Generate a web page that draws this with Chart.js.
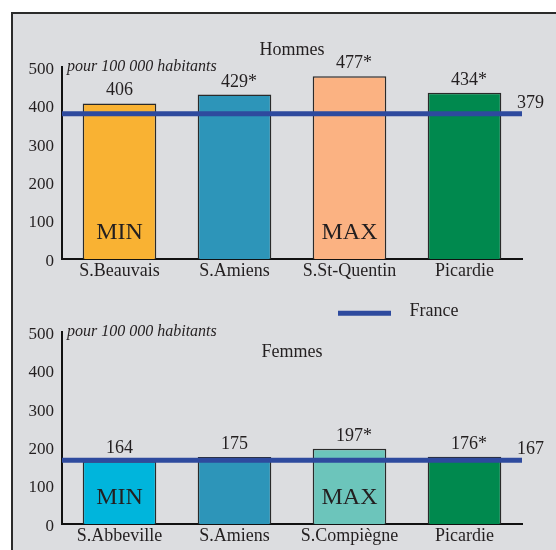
<!DOCTYPE html>
<html>
<head>
<meta charset="utf-8">
<script src="https://cdn.jsdelivr.net/npm/chart.js@4.4.0/dist/chart.umd.min.js"></script>
<style>
body { margin: 0; background: #fff; width: 556px; height: 550px; overflow: hidden; position: relative; }
#frame { position: absolute; left: 11px; top: 12px; width: 600px; height: 600px; border: 2px solid #2b2b2b; background: #dcdde0; }
canvas { position: absolute; left: 0; }
#hommes { top: 0; }
#femmes { top: 290px; }
</style>
</head>
<body>
<div id="frame"></div>
<canvas id="hommes" width="556" height="290"></canvas>
<canvas id="femmes" width="556" height="260"></canvas>
<script>
// taux pour 100 000 habitants
var hommesLabels = ['S.Beauvais', 'S.Amiens', 'S.St-Quentin', 'Picardie'];
var hommesValues = [406, 429, 477, 434];
var hommesStars = ['', '*', '*', '*'];
var hommesTags = ['MIN', '', 'MAX', ''];
var hommesFrance = 379;

var femmesLabels = ['S.Abbeville', 'S.Amiens', 'S.Compiègne', 'Picardie'];
var femmesValues = [164, 175, 197, 176];
var femmesStars = ['', '', '*', '*'];
var femmesTags = ['MIN', '', 'MAX', ''];
var femmesFrance = 167;

var hommesColors = ['#f9b233', '#2d95b9', '#fbb282', '#00894e'];
var femmesColors = ['#00b5dc', '#2d95b9', '#6cc5bb', '#00894e'];

var serif = '"Liberation Serif", "Times New Roman", serif';
var ink = '#231f20';
var franceBlue = '#2e4a9e';

var notes = {
    id: 'notes',
    afterDatasetsDraw: function(chart, args, opts) {
        var ctx = chart.ctx;
        var y = chart.scales.y;
        var area = chart.chartArea;
        var bars = chart.getDatasetMeta(1).data;
        ctx.save();
        ctx.fillStyle = ink;

        // valeurs au-dessus des barres
        ctx.font = '18px ' + serif;
        ctx.textAlign = 'left';
        ctx.textBaseline = 'alphabetic';
        bars.forEach(function(bar, i) {
            var num = String(opts.values[i]);
            var w = ctx.measureText(num).width;
            ctx.fillText(num + opts.stars[i], bar.x - w / 2, bar.y - 8);
        });

        // MIN / MAX
        ctx.font = '24px ' + serif;
        ctx.textAlign = 'center';
        bars.forEach(function(bar, i) {
            if (opts.tags[i]) ctx.fillText(opts.tags[i], bar.x, y.getPixelForValue(75) + 8);
        });

        // valeur France
        ctx.font = '18px ' + serif;
        ctx.textAlign = 'left';
        ctx.fillText(String(opts.france), area.right - 5, y.getPixelForValue(opts.france) - 6);

        // titre
        ctx.font = '18px ' + serif;
        ctx.textAlign = 'center';
        ctx.textBaseline = 'middle';
        ctx.fillText(opts.title, (area.left + area.right) / 2, opts.titleY);

        // unite
        ctx.font = 'italic 16px ' + serif;
        ctx.textAlign = 'left';
        ctx.textBaseline = 'alphabetic';
        ctx.fillText('pour 100 000 habitants', area.left + 5, area.top + 4);

        // legende
        if (opts.legend) {
            ctx.strokeStyle = franceBlue;
            ctx.lineWidth = 5;
            ctx.beginPath();
            ctx.moveTo(338, 23.3);
            ctx.lineTo(391, 23.3);
            ctx.stroke();
            ctx.font = '18px ' + serif;
            ctx.textBaseline = 'middle';
            ctx.fillText('France', 409.6, 21.5);
        }
        ctx.restore();
    }
};

function drawPanel(canvasId, labels, values, colors, france, stars, tags, title, titleY, legend, padTop, axisH) {
    var canvas = document.getElementById(canvasId);
    return new Chart(canvas.getContext('2d'), {
        type: 'bar',
        data: {
            labels: labels,
            datasets: [{
                type: 'line',
                xAxisID: 'xl',
                data: [{ x: 0, y: france }, { x: 1, y: france }],
                borderColor: franceBlue,
                borderWidth: 5,
                pointRadius: 0,
                clip: false,
                order: 0
            }, {
                xAxisID: 'x',
                data: values,
                backgroundColor: colors,
                borderColor: '#2a2a2a',
                borderWidth: 1.5,
                grouped: false,
                barPercentage: 0.64,
                categoryPercentage: 1,
                order: 1
            }]
        },
        options: {
            responsive: false,
            animation: false,
            events: [],
            layout: { padding: { top: padTop, right: 34, left: 0, bottom: 0 } },
            plugins: {
                legend: { display: false },
                tooltip: { enabled: false },
                notes: {
                    values: values, stars: stars, tags: tags, france: france,
                    title: title, titleY: titleY, legend: legend
                }
            },
            scales: {
                x: {
                    grid: { display: false, drawTicks: false },
                    border: { display: true, color: '#111', width: 2 },
                    ticks: { color: ink, font: { family: serif, size: 18 }, padding: 1, maxRotation: 0, autoSkip: false },
                    afterFit: function(s) { s.height = axisH; }
                },
                xl: { type: 'linear', display: false, offset: false, min: 0, max: 1 },
                y: {
                    min: 0,
                    max: 500,
                    ticks: { stepSize: 100, color: ink, font: { family: serif, size: 17 }, padding: 8, labelOffset: 2 },
                    grid: { display: false, drawTicks: false },
                    border: { display: true, color: '#111', width: 2 },
                    afterFit: function(s) { s.width = 62; }
                }
            }
        },
        plugins: [notes]
    });
}

var graphiqueHommes = drawPanel('hommes', hommesLabels, hommesValues, hommesColors, hommesFrance,
    hommesStars, hommesTags, 'Hommes', 50, false, 67.3, 30.7);
var graphiqueFemmes = drawPanel('femmes', femmesLabels, femmesValues, femmesColors, femmesFrance,
    femmesStars, femmesTags, 'Femmes', 62.5, true, 42.3, 25.7);
</script>
</body>
</html>
